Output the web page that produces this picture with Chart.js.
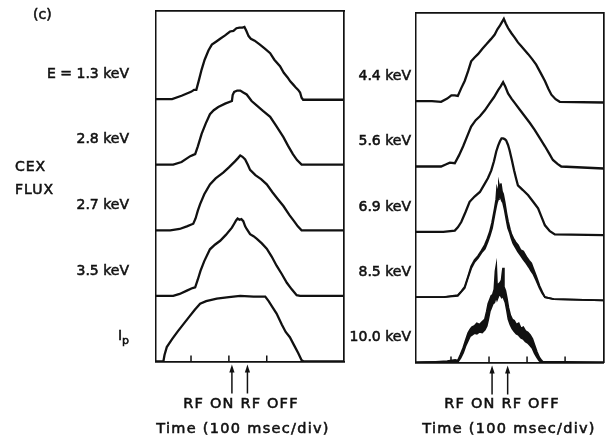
<!DOCTYPE html>
<html>
<head>
<meta charset="utf-8">
<script src="https://cdn.jsdelivr.net/npm/chart.js@4/dist/chart.umd.min.js"></script>
<style>
  body { margin: 0; background: #fff; }
  #wrap { position: relative; width: 606px; height: 439px; overflow: hidden;
          font-family: "DejaVu Sans", sans-serif; color: #111; }
  canvas { position: absolute; left: 0; top: 0; }
  .lbl { position: absolute; font-size: 14px; line-height: 16px; white-space: nowrap;
         -webkit-text-stroke: 0.55px #111; }
  .foot { position: absolute; font-size: 14.5px; line-height: 18px; white-space: nowrap;
          transform: translateX(-50%); -webkit-text-stroke: 0.55px #111; }
  sub { font-size: 11px; vertical-align: -4px; }
</style>
</head>
<body>
<div id="wrap">
  <canvas id="leftPanel" width="606" height="439"></canvas>
  <canvas id="rightPanel" width="606" height="439"></canvas>
  <div class="lbl" style="left:33px;top:6px;">(c)</div>
  <div class="lbl" style="left:15px;top:158px;letter-spacing:1px;">CEX</div>
  <div class="lbl" style="left:15px;top:181px;letter-spacing:1px;">FLUX</div>
  <div class="foot" style="left:241px;top:394px;letter-spacing:1.2px;">RF ON RF OFF</div>
  <div class="foot" style="left:243px;top:419px;letter-spacing:1.3px;">Time (100 msec/div)</div>
  <div class="foot" style="left:502px;top:394px;letter-spacing:1.2px;">RF ON RF OFF</div>
  <div class="foot" style="left:509px;top:419px;letter-spacing:1.3px;">Time (100 msec/div)</div>
</div>
<script>
// time in ms, signal in units of one trace spacing (baseline = 0)
const keV13 = [[6,0],[50,0],[75,0.05],[100,0.11],[108,0.14],[114,0.14],[120,0.27],[128,0.45],[136,0.6],[146,0.74],
  [155,0.83],[165,0.87],[177,0.92],[190,0.97],[203,1.03],[212,1.04],[220,1.08],[228,1.09],[236,1.09],[241,1.1],
  [246,1.04],[252,0.96],[258,0.92],[268,0.89],[282,0.83],[295,0.77],[309,0.7],[320,0.6],[335,0.5],[345,0.4],
  [355,0.33],[362,0.27],[370,0.22],[376,0.18],[383,0.14],[388,0.1],[392,0.02],[396,-0.01],[504,-0.01]];
const keV28 = [[6,0],[53,0],[75,0.04],[98,0.13],[106,0.15],[111,0.16],[118,0.28],[128,0.47],[139,0.63],[150,0.77],
  [160,0.83],[172,0.88],[190,0.93],[208,0.97],[210,1.06],[214,1.11],[222,1.13],[230,1.13],[238,1.1],[247,1.07],
  [260,0.97],[274,0.9],[290,0.82],[309,0.73],[325,0.59],[344,0.42],[356,0.29],[369,0.16],[380,0.07],[392,0],[504,0]];
const keV27 = [[6,0],[45,0],[70,0.02],[89,0.06],[106,0.1],[112,0.18],[118,0.3],[124,0.4],[135,0.55],[150,0.7],
  [165,0.79],[185,0.88],[200,0.96],[216,1.05],[224,1.1],[230,1.14],[236,1.12],[243,1.08],[250,1.0],[256,0.92],
  [270,0.84],[285,0.78],[300,0.7],[315,0.58],[330,0.47],[344,0.37],[360,0.23],[372,0.14],[382,0.06],[392,0],[504,0]];
const keV35 = [[6,0],[53,0],[70,0.03],[89,0.08],[104,0.12],[111,0.13],[118,0.25],[125,0.38],[135,0.53],[150,0.71],
  [163,0.78],[177,0.84],[192,0.93],[208,1.04],[214,1.1],[219,1.15],[223,1.18],[228,1.16],[233,1.17],[238,1.14],
  [243,1.06],[247,1.02],[256,0.94],[265,0.91],[274,0.87],[287,0.8],[300,0.72],[313,0.6],[326,0.46],[340,0.33],
  [353,0.2],[366,0.1],[379,0.01],[388,0],[504,0]];
const plasmaCurrent = [[6,0],[27,0],[30,0.1],[36,0.22],[50,0.34],[65,0.46],[80,0.57],[95,0.68],[110,0.79],[124,0.88],
  [140,0.92],[168,0.96],[200,0.98],[230,1.0],[265,0.99],[296,0.99],[305,0.92],[315,0.83],[326,0.73],[340,0.56],
  [350,0.45],[361,0.37],[372,0.25],[383,0.13],[392,0.02],[398,0],[504,0]];

const keV44 = [[8,0],[50,0],[74,-0.01],[90,0.04],[101,0.09],[110,0.09],[118,0.08],[127,0.2],[136,0.31],[145,0.46],
  [153,0.61],[162,0.67],[171,0.72],[182,0.8],[193,0.87],[205,0.95],[215,1.02],[222,1.1],[229,1.16],[234,1.21],
  [239,1.26],[244,1.19],[250,1.12],[259,1.04],[268,0.97],[276,0.9],[285,0.84],[294,0.78],[303,0.72],[314,0.64],
  [324,0.56],[336,0.43],[347,0.31],[356,0.19],[364,0.1],[375,0.03],[386,-0.01],[501,-0.02]];
const keV56 = [[8,0],[74,0],[86,0.03],[97,0.06],[110,0.05],[121,0.17],[132,0.31],[143,0.47],[153,0.61],[165,0.71],
  [176,0.77],[189,0.86],[202,0.97],[213,1.06],[224,1.17],[231,1.23],[237,1.29],[243,1.22],[250,1.12],[259,1.04],
  [268,0.97],[281,0.87],[294,0.77],[307,0.67],[320,0.56],[334,0.43],[347,0.31],[358,0.2],[368,0.1],[380,0.04],
  [390,0],[501,-0.03]];
const keV69 = [[8,0],[80,0],[110,0.02],[118,0.07],[127,0.15],[138,0.3],[149,0.46],[162,0.54],[176,0.61],[187,0.72],
  [197,0.82],[206,0.94],[213,1.08],[219,1.23],[224,1.32],[229,1.39],[233,1.43],[237,1.43],[241,1.42],[245,1.4],
  [250,1.33],[254,1.25],[260,1.1],[266,0.94],[271,0.82],[276,0.71],[289,0.64],[303,0.56],[316,0.46],[329,0.36],
  [338,0.23],[347,0.1],[360,0.01],[373,-0.04],[501,-0.05]];
// noisy traces: [time, lower edge, upper edge]
const keV85 = [[8,0,0],[80,0,0],[118,0.02,0.03],[127,0.08,0.09],[136,0.14,0.16],[145,0.3,0.32],[153,0.44,0.47],
  [162,0.54,0.57],[171,0.6,0.63],[180,0.68,0.71],[189,0.74,0.8],[196,0.84,0.9],[202,0.94,1.0],[208,1.06,1.14],
  [215,1.28,1.36],[219,1.4,1.5],[221,1.45,1.66],[224,1.5,1.6],[226,1.52,1.72],[229,1.55,1.64],[231,1.52,1.74],
  [234,1.5,1.62],[237,1.44,1.58],[241,1.34,1.46],[246,1.18,1.28],[250,1.06,1.16],[255,0.98,1.04],[259,0.9,0.96],
  [264,0.82,0.9],[270,0.76,0.84],[276,0.7,0.8],[283,0.64,0.72],[290,0.58,0.7],[298,0.52,0.62],[305,0.46,0.56],
  [311,0.4,0.52],[316,0.36,0.44],[324,0.26,0.32],[333,0.14,0.17],[340,0.06,0.08],[347,0,0],[370,-0.03,-0.03],
  [501,-0.05,-0.05]];
const keV100 = [[8,0,0],[60,0.01,0.01],[90,0,0.02],[111,0.01,0.04],[118,0.01,0.03],[125,0.07,0.12],[132,0.15,0.22],
  [138,0.25,0.33],[145,0.34,0.45],[150,0.4,0.5],[155,0.42,0.54],[162,0.45,0.56],[168,0.44,0.6],[175,0.47,0.58],
  [182,0.46,0.62],[189,0.5,0.66],[194,0.56,0.78],[198,0.66,0.9],[202,0.78,0.96],[206,0.84,1.02],[210,0.9,1.04],
  [214,0.92,1.12],[217,0.98,1.4],[219,1.0,1.47],[221,0.96,1.18],[225,1.02,1.2],[229,1.04,1.22],[233,1.0,1.26],
  [235,1.02,1.36],[237,1.0,1.45],[239,0.98,1.16],[243,0.92,1.1],[247,0.8,0.98],[251,0.66,0.84],[256,0.58,0.72],
  [261,0.52,0.66],[266,0.48,0.64],[272,0.44,0.58],[278,0.42,0.6],[284,0.38,0.52],[290,0.36,0.54],[296,0.32,0.48],
  [302,0.3,0.46],[308,0.26,0.42],[314,0.22,0.36],[320,0.14,0.26],[326,0.08,0.16],[332,0.03,0.08],[338,0,0.03],
  [342,0,0.01],[400,0,0.01],[501,0,0]];

const leftLabels = ['E = 1.3 keV', '2.8 keV', '2.7 keV', '3.5 keV', 'I<sub>p</sub>'];
const rightLabels = ['4.4 keV', '5.6 keV', '6.9 keV', '8.5 keV', '10.0 keV'];
const leftTicks = [100, 200, 300];
const rightTicks = [100, 200, 300, 400];
const rfTimes = [208, 249];   // RF on, RF off

const INK = '#111';

function line(pts, offset) {
  return { data: pts.map(([t, v]) => ({ x: t, y: v + offset })),
           borderColor: INK, borderWidth: 2.3, pointRadius: 0, fill: false };
}
function band(pts, offset) {
  return [
    { data: pts.map(([t, lo]) => ({ x: t, y: lo + offset })),
      borderColor: INK, borderWidth: 1.8, pointRadius: 0, fill: false },
    { data: pts.map(([t, lo, hi]) => ({ x: t, y: hi + offset })),
      borderColor: INK, borderWidth: 1.8, pointRadius: 0, fill: '-1', backgroundColor: INK }
  ];
}

function frameAxis(position, extra) {
  const horiz = position === 'top' || position === 'bottom';
  return Object.assign({
    type: 'linear', position,
    ticks: { display: false },
    grid: { display: false, drawTicks: false },
    border: { display: true, color: INK, width: 1.7 },
    afterFit: s => { if (horiz) s.height = 0; else s.width = 0; }
  }, extra);
}

// inward ticks on the time axis plus the RF on/off arrows below it
function axisMarks(ticks) {
  return {
    id: 'axisMarks',
    afterDraw(chart) {
      const { ctx, chartArea } = chart;
      const xs = chart.scales.x;
      ctx.save();
      ctx.strokeStyle = INK;
      ctx.fillStyle = INK;
      ctx.lineWidth = 1.5;
      ticks.forEach(t => {
        const px = xs.getPixelForValue(t);
        ctx.beginPath();
        ctx.moveTo(px, chartArea.bottom);
        ctx.lineTo(px, chartArea.bottom - 6);
        ctx.stroke();
      });
      rfTimes.forEach(t => {
        const px = xs.getPixelForValue(t);
        const y0 = chartArea.bottom + 3;
        ctx.beginPath();
        ctx.moveTo(px, y0 + 6);
        ctx.lineTo(px, y0 + 29);
        ctx.stroke();
        ctx.beginPath();
        ctx.moveTo(px, y0);
        ctx.lineTo(px - 2.6, y0 + 8);
        ctx.lineTo(px + 2.6, y0 + 8);
        ctx.closePath();
        ctx.fill();
      });
      ctx.restore();
    }
  };
}

function panel(id, datasets, area, xRange, ticks, labels, labelRight, leftDash) {
  const chart = new Chart(document.getElementById(id), {
    type: 'line',
    data: { datasets },
    options: {
      responsive: false,
      animation: false,
      devicePixelRatio: 1,
      layout: { padding: { left: area.left, top: area.top, right: 606 - area.right, bottom: 439 - area.bottom } },
      plugins: { legend: { display: false }, tooltip: { enabled: false } },
      scales: {
        x: frameAxis('bottom', { min: xRange[0], max: xRange[1] }),
        xTop: frameAxis('top', { min: xRange[0], max: xRange[1] }),
        y: frameAxis('left', { min: 0, max: 5.35,
          border: { display: true, color: INK, width: 1.5, dash: leftDash ? [3, 2] : [] } }),
        yRight: frameAxis('right', { min: 0, max: 5.35 })
      }
    },
    plugins: [axisMarks(ticks)]
  });
  const wrap = document.getElementById('wrap');
  labels.forEach((txt, i) => {
    const el = document.createElement('div');
    el.className = 'lbl';
    el.innerHTML = txt;
    el.style.right = (606 - labelRight) + 'px';
    el.style.top = (chart.scales.y.getPixelForValue(4 - i + 0.4) - 8) + 'px';
    wrap.appendChild(el);
  });
  return chart;
}

panel('leftPanel',
  [line(keV13, 4), line(keV28, 3), line(keV27, 2), line(keV35, 1), line(plasmaCurrent, 0)],
  { left: 155.5, top: 10.5, right: 344, bottom: 361.5 }, [6.2, 504], leftTicks, leftLabels, 129, true);

panel('rightPanel',
  [line(keV44, 4), line(keV56, 3), line(keV69, 2), ...band(keV85, 1), ...band(keV100, 0)],
  { left: 416, top: 13, right: 603.5, bottom: 362.5 }, [8, 501], rightTicks, rightLabels, 411, false);
</script>
</body>
</html>
